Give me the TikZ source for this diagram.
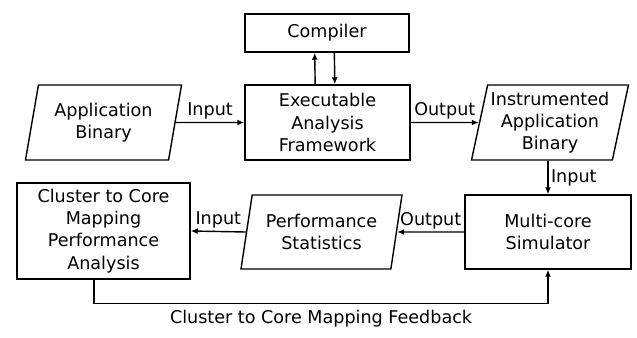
\documentclass[tikz,border=0pt]{standalone}
\usepackage{fontspec}
\setmainfont{DejaVu Sans}
\usetikzlibrary{shapes.geometric,arrows.meta}
\tikzstyle{procbox} = [draw=black, line width=1.2pt, rectangle, align=center,
    inner sep=2pt, font=\fontsize{15}{19}\selectfont]
\tikzstyle{databox} = [draw=black, line width=1.2pt, trapezium, trapezium left angle=76,
    trapezium right angle=104, trapezium stretches=true, align=center, inner sep=0pt,
    font=\fontsize{15}{19}\selectfont]
\tikzstyle{flow} = [line width=1.2pt, -{Latex[length=6pt,width=5pt]}]
\tikzstyle{flowlabel} = [font=\fontsize{15}{19}\selectfont, inner sep=2pt]

\begin{document}
\begin{tikzpicture}[x=0.03cm, y=-0.03cm]
    \useasboundingbox (0,0) rectangle (637,338);
    % boxes of the tool flow
    \node [procbox, minimum width=4.92cm, minimum height=1.14cm] (compiler) at (327,33) {Compiler};
    \node [procbox, minimum width=4.95cm, minimum height=2.25cm] (exec) at (327.5,122.5) {Executable\\Analysis\\Framework};
    \node [procbox, minimum width=4.98cm, minimum height=2.22cm] (multi) at (548,232) {Multi-core\\Simulator};
    \node [procbox, minimum width=5.19cm, minimum height=2.88cm] (cluster) at (103.5,231) {Cluster to Core\\Mapping\\Performance\\Analysis};
    % data items
    \node [databox, minimum width=4.71cm, minimum height=2.25cm] (app) at (103.5,122.5) {Application\\Binary};
    \node [databox, minimum width=4.71cm, minimum height=2.25cm] (instr) at (550,122.5) {Instrumented\\Application\\Binary};
    \node [databox, minimum width=4.83cm, minimum height=2.22cm] (perf) at (321.5,232) {Performance\\Statistics};
    % connectors
    \draw [flow] (app.east) -- (exec.west) node [flowlabel, midway, above] {Input};
    \draw [flow] (exec.east) -- (instr.west) node [flowlabel, midway, above] {Output};
    \draw [flow] ([xshift=-0.37cm]exec.north) -- ([xshift=-0.37cm]compiler.south);
    \draw [flow] ([xshift=0.22cm]compiler.south) -- ([xshift=0.22cm]exec.north);
    \draw [flow] (instr.south -| multi.north) -- (multi.north) node [flowlabel, midway, right] {Input};
    \draw [flow] (multi.west) -- (perf.east) node [flowlabel, midway, above] {Output};
    \draw [flow] (perf.west) -- (cluster.east) node [flowlabel, midway, above] {Input};
    \draw [flow] ([xshift=-0.28cm]cluster.south) -- ++(0,24) -| (multi.south)
        node [flowlabel, pos=0.25, below, yshift=-0.1cm] {Cluster to Core Mapping Feedback};
\end{tikzpicture}
\end{document}
